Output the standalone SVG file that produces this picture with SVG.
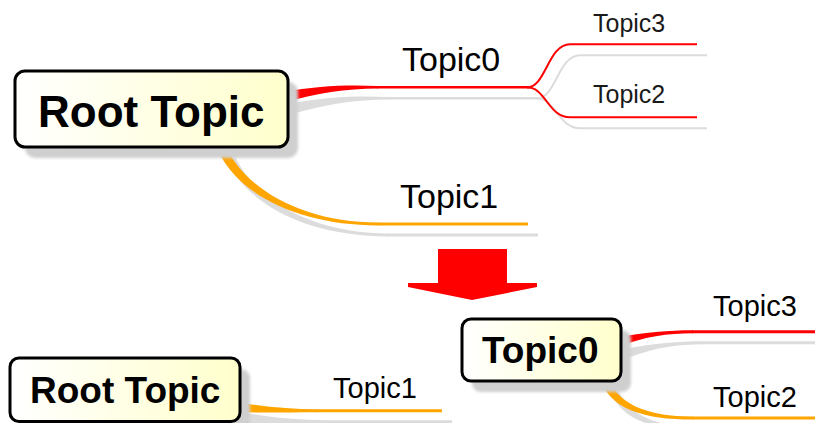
<svg xmlns="http://www.w3.org/2000/svg" width="815" height="423" viewBox="0 0 815 423">
<style>
.box{fill:url(#bg);stroke:#000;stroke-width:3}
.bshadow{fill:#cfcfcf;filter:url(#blur)}
.root{font-family:"Liberation Sans",Arial,sans-serif;font-weight:bold;fill:#000}
.lbl{font-family:"Liberation Sans",Arial,sans-serif;fill:#000}
.sub{font-family:"Liberation Sans",Arial,sans-serif;fill:#1a1a1a}
.red{fill:none;stroke:#ff0000}
.ora{fill:none;stroke:#ffa500}
.redf{fill:#ff0000}
.oraf{fill:#ffa500}
.sh{fill:none;stroke:#dcdcdc}
.shf{fill:#dcdcdc}
</style>
<defs>
<linearGradient id="bg" x1="0" y1="0" x2="1" y2="0">
<stop offset="0" stop-color="#ffffff"/>
<stop offset="1" stop-color="#ffffcc"/>
</linearGradient>
<filter id="blur" x="-10%" y="-10%" width="120%" height="130%"><feGaussianBlur stdDeviation="1.5"/></filter>
<path id="t0a" d="M282,92 C318,86 345,84.6 378,86 L378,88.6 C345,89 318,93 282,103 Z"/>
<path id="t0b" d="M377,87.3 H530"/>
<path id="t3a" d="M527,87.3 C546,87.3 548,44.3 570,44.3 H697"/>
<path id="t2a" d="M527,87.3 C546,87.3 548,117.3 570,117.3 H697"/>
<path id="t1a" d="M222,138 C240,188 302,222.5 378,222.5 L378,225.5 C296,225.5 230,192 214,140 Z"/>
<path id="t1b" d="M377,224 H528"/>
<path id="b1a" d="M236,402 C265,407 290,409.2 316,409.2 L316,412.2 C290,412.2 265,413 236,412 Z"/>
<path id="b1b" d="M315,410.7 H442"/>
<path id="b3a" d="M615,338 C645,332 668,330.2 693,330.2 L693,333.2 C668,333.2 645,336 615,348 Z"/>
<path id="b3b" d="M692,331.7 H815"/>
<path id="b2a" d="M606,372 C615,405 648,416.5 693,416.5 L693,419.5 C644,419.5 608,410 598,374 Z"/>
<path id="b2b" d="M692,418 H815"/>
</defs>
<rect width="815" height="423" fill="#ffffff"/>
<g id="connectors">
<g id="shadows" transform="translate(10,11)">
<use href="#t0a" class="shf"/>
<use href="#t0b" class="sh" stroke-width="2.5"/>
<use href="#t3a" class="sh" stroke-width="2"/>
<use href="#t2a" class="sh" stroke-width="2"/>
<use href="#t1a" class="shf"/>
<use href="#t1b" class="sh" stroke-width="3"/>
<use href="#b1a" class="shf"/>
<use href="#b1b" class="sh" stroke-width="3"/>
<use href="#b3a" class="shf"/>
<use href="#b3b" class="sh" stroke-width="3"/>
<use href="#b2a" class="shf"/>
<use href="#b2b" class="sh" stroke-width="3"/>
</g>
<use href="#t0a" class="redf"/>
<use href="#t0b" class="red" stroke-width="2.5"/>
<use href="#t3a" class="red" stroke-width="2"/>
<use href="#t2a" class="red" stroke-width="2"/>
<use href="#t1a" class="oraf"/>
<use href="#t1b" class="ora" stroke-width="3"/>
<use href="#b1a" class="oraf"/>
<use href="#b1b" class="ora" stroke-width="3"/>
<use href="#b3a" class="redf"/>
<use href="#b3b" class="red" stroke-width="3"/>
<use href="#b2a" class="oraf"/>
<use href="#b2b" class="ora" stroke-width="3"/>
</g>
<g id="root-top">
<rect class="bshadow" x="25" y="82" width="273" height="76" rx="10"/>
<rect class="box" x="15" y="71" width="273" height="76" rx="10"/>
<text class="root" x="38" y="127" font-size="44">Root Topic</text>
</g>
<g id="topic0-top"><text class="lbl" x="402" y="71" font-size="34">Topic0</text></g>
<g id="topic1-top"><text class="lbl" x="400" y="208" font-size="34">Topic1</text></g>
<g id="topic3-top"><text class="sub" x="593" y="31.5" font-size="25">Topic3</text></g>
<g id="topic2-top"><text class="sub" x="593" y="103" font-size="25">Topic2</text></g>
<g id="arrow">
<polygon points="438,249 507,249 507,283 537,283 537,287 472,300 408,287 408,283 438,283" fill="#ff0000"/>
</g>
<g id="root-bottom">
<rect class="bshadow" x="20" y="369" width="230" height="64" rx="9"/>
<rect class="box" x="10" y="358" width="230" height="63.5" rx="9"/>
<text class="root" x="30" y="403" font-size="37">Root Topic</text>
</g>
<g id="topic1-bottom"><text class="lbl" x="333" y="398" font-size="29">Topic1</text></g>
<g id="topic0-bottom">
<rect class="bshadow" x="472" y="330" width="159" height="62" rx="9"/>
<rect class="box" x="462" y="319" width="159" height="62" rx="9"/>
<text class="root" x="482" y="363" font-size="37">Topic0</text>
</g>
<g id="topic3-bottom"><text class="lbl" x="713" y="316" font-size="29">Topic3</text></g>
<g id="topic2-bottom"><text class="lbl" x="713" y="407" font-size="29">Topic2</text></g>
</svg>
